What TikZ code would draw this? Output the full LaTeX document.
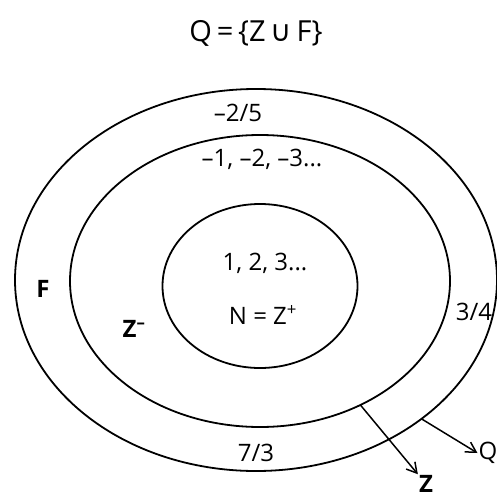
\documentclass[tikz,border=0pt]{standalone}
\usepackage{fontspec}
\setmainfont{Open Sans}
\newfontfamily\symfont{DejaVu Sans}
\usetikzlibrary{arrows.meta,shapes.geometric}

\begin{document}
\begin{tikzpicture}[
  x=1pt,y=-1pt,
  ring/.style={draw,ellipse,line width=1.8pt,inner sep=0pt,outer sep=0pt},
  lbl/.style={font=\fontsize{24}{27}\selectfont,inner sep=1pt},
  arrow/.style={-{Straight Barb[length=3.5mm,width=4mm]},line width=1.5pt}]
\useasboundingbox (0,0) rectangle (497,498);
\node[font=\fontsize{29}{32}\selectfont] (title) at (256,33) {Q\,=\,\{Z\,{\symfont ∪}\,F\}};
% the three sets
\node[ring,minimum width=482pt,minimum height=382pt] (outer) at (256,280) {};
\node[ring,minimum width=380pt,minimum height=292pt] (mid) at (260,281) {};
\node[ring,minimum width=195pt,minimum height=164pt] (inner) at (260,286) {};
% members
\node[lbl] (f25) at (238,113) {--2/5};
\node[lbl] (neg) at (262,159) {--1, --2, --3...};
\node[lbl] (pos) at (265,263) {1, 2, 3...};
\node[lbl] (nat) at (263,315) {N = Z\textsuperscript{+}};
\node[lbl,font=\fontsize{24}{27}\selectfont\bfseries] (fl) at (43,289) {F};
\node[lbl,font=\fontsize{24}{27}\selectfont\bfseries] (zneg) at (134,329) {Z\textsuperscript{--}};
\node[lbl] (f34) at (474,312) {3/4};
\node[lbl] (f73) at (256,453) {7/3};
\node[lbl,font=\fontsize{24}{27}\selectfont\bfseries] (zl) at (426,484) {Z};
\node[lbl] (ql) at (488,453) {Q};
\draw[arrow] (mid.-51) -- (zl.north west);
\draw[arrow] (outer.-40) -- (ql.west);
\end{tikzpicture}
\end{document}
